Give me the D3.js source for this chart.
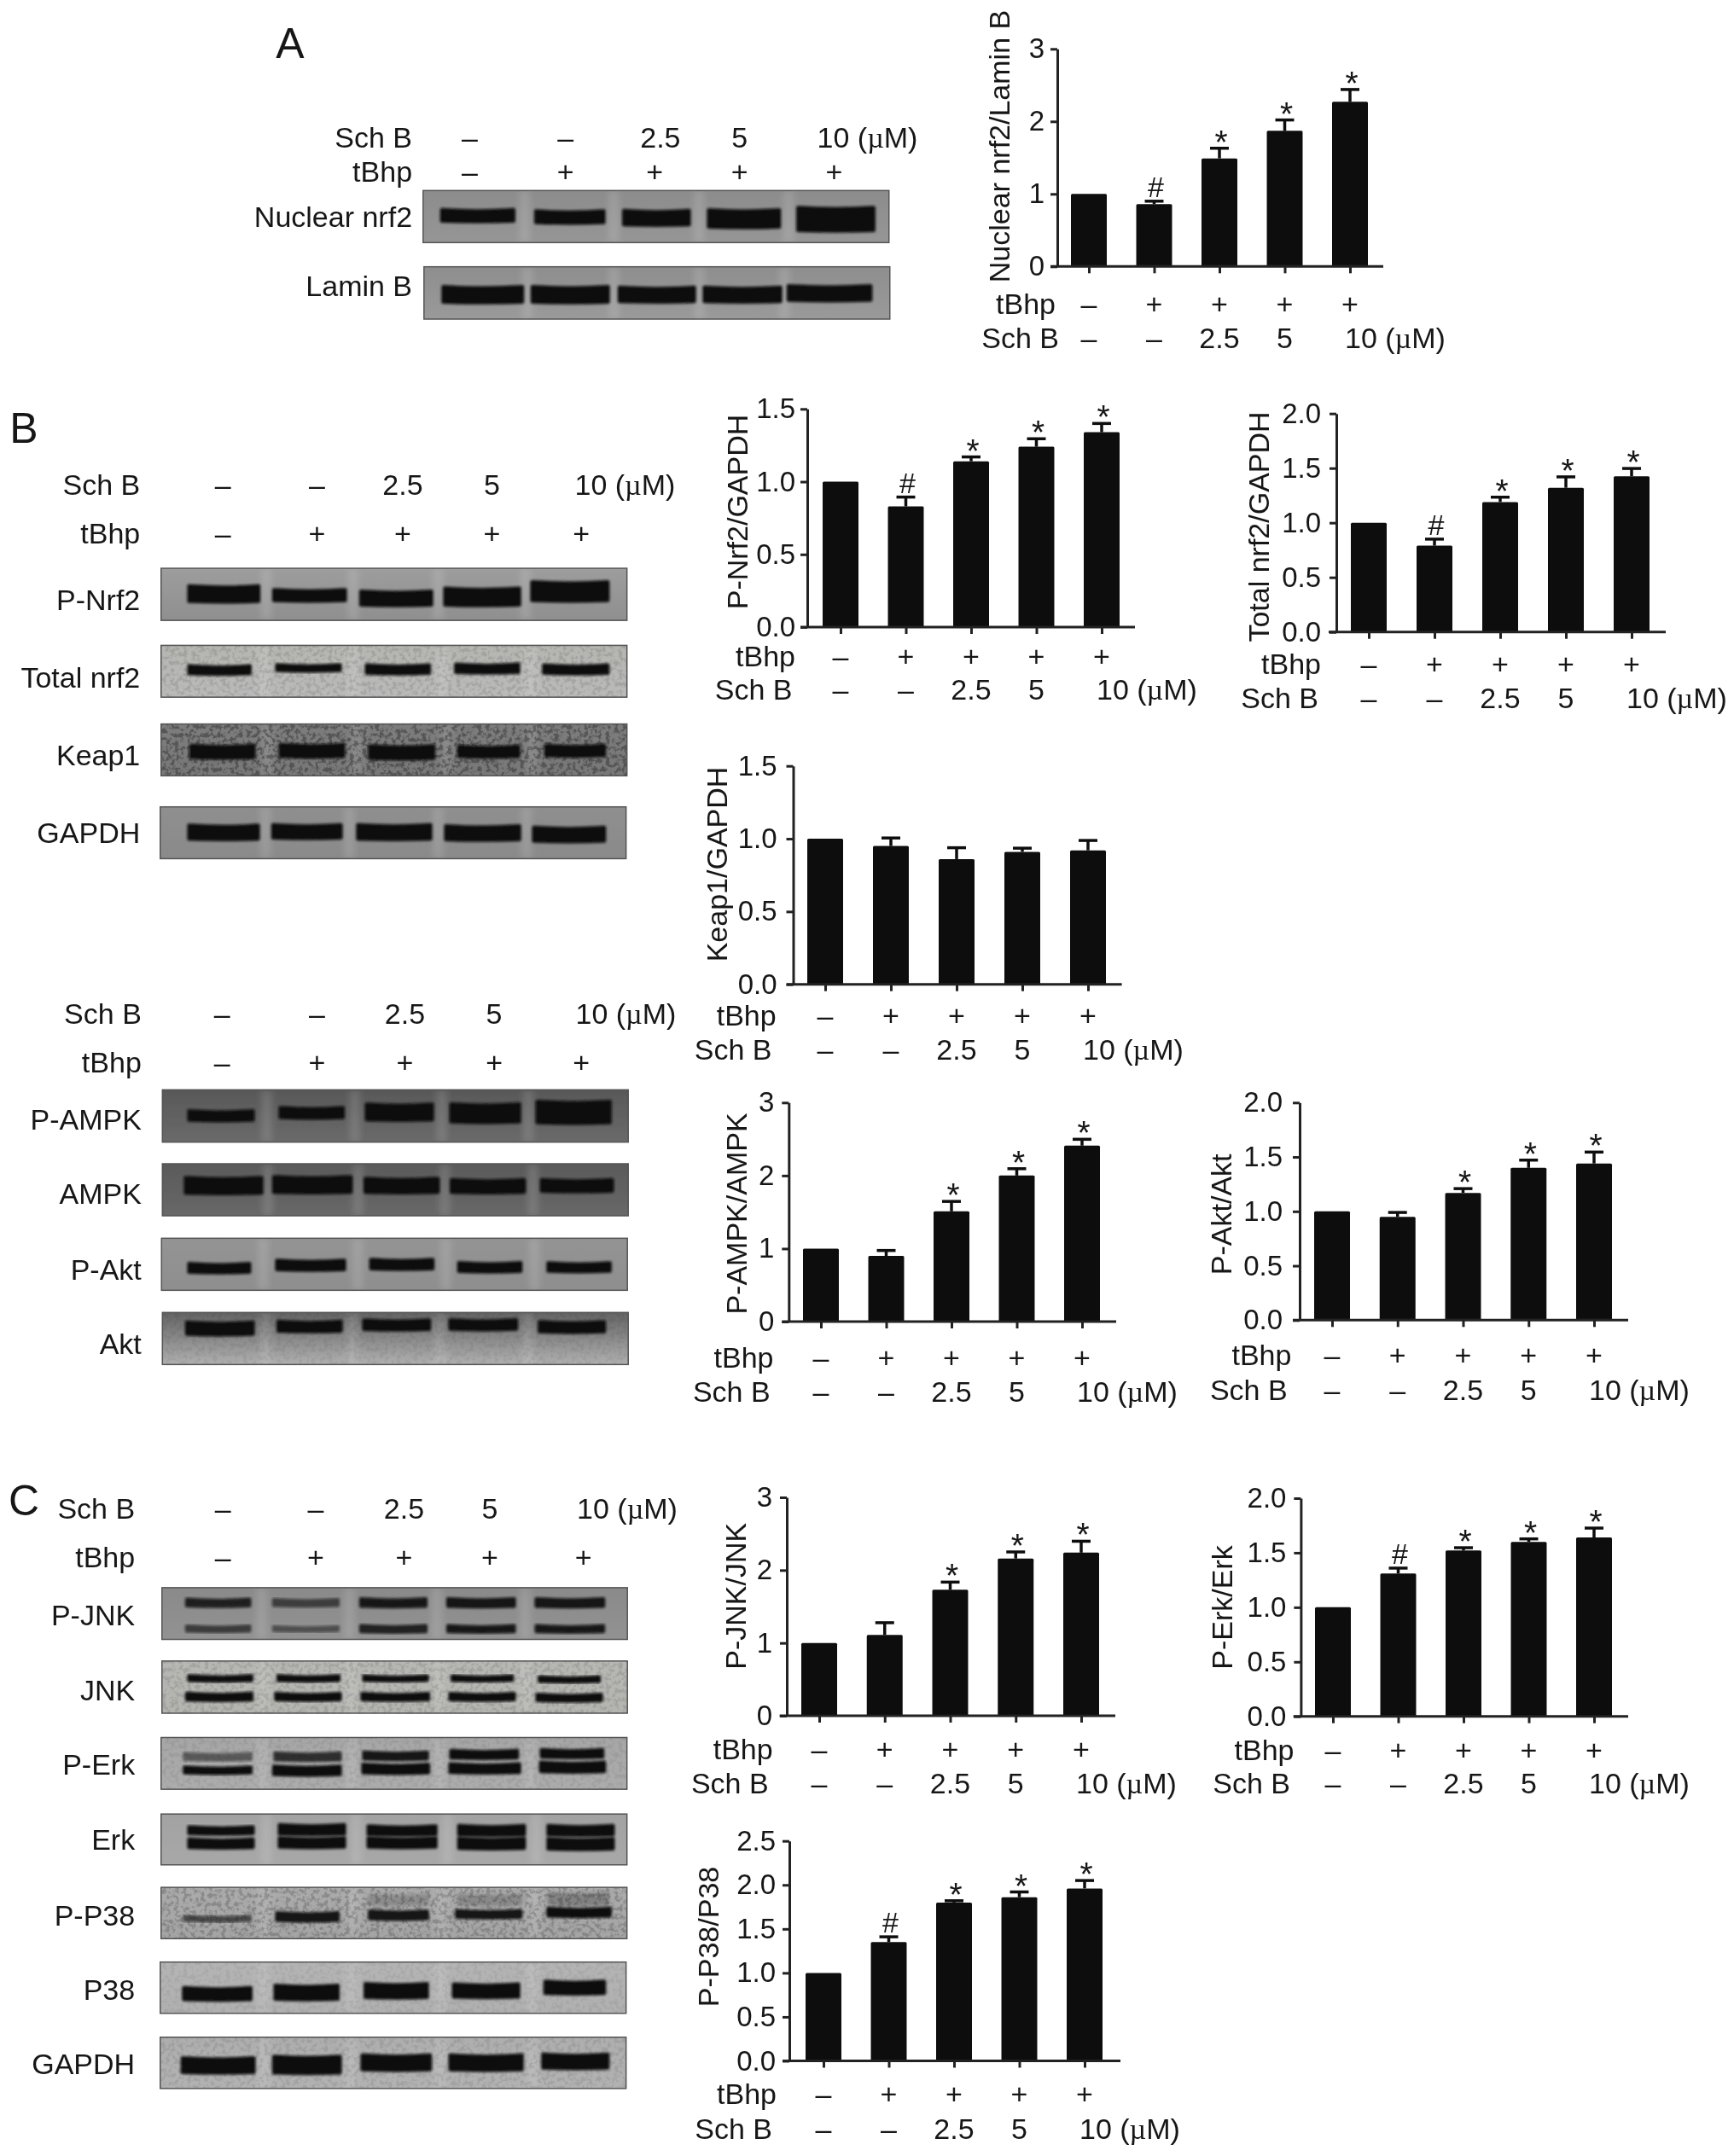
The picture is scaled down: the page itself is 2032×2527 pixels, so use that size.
<!DOCTYPE html>
<html>
<head>
<meta charset="utf-8">
<script src="https://cdn.jsdelivr.net/npm/d3@7"></script>
<style>
  html, body { margin: 0; padding: 0; background: #fff; }
  text { font-family: "Liberation Sans", Arial, sans-serif; fill: #161616; }
</style>
</head>
<body>
<script>
// values
var groups = ['control', 'tBhp', 'sch2.5', 'sch5', 'sch10']
var tbhpRow = ['\u2013', '+', '+', '+', '+']
var schRow = ['\u2013', '\u2013', '2.5', '5', '10']

var ticks3 = [0, 1, 2, 3]
var ticks15 = [0, 0.5, 1, 1.5]
var ticks20 = [0, 0.5, 1, 1.5, 2]
var ticks25 = [0, 0.5, 1, 1.5, 2, 2.5]

var nuclearValues = [1, 0.86, 1.49, 1.87, 2.27]
var nuclearErrors = [0, 0.04, 0.14, 0.15, 0.17]
var nuclearMarks = ['', '#', '*', '*', '*']

var pNrf2Values = [1, 0.83, 1.14, 1.24, 1.34]
var pNrf2Errors = [0, 0.064, 0.03, 0.055, 0.06]
var pNrf2Marks = ['', '#', '*', '*', '*']

var totalNrf2Values = [1, 0.79, 1.19, 1.32, 1.425]
var totalNrf2Errors = [0, 0.06, 0.044, 0.1, 0.072]
var totalNrf2Marks = ['', '#', '*', '*', '*']

var keap1Values = [1, 0.95, 0.86, 0.91, 0.92]
var keap1Errors = [0, 0.055, 0.078, 0.025, 0.068]
var keap1Marks = ['', '', '', '', '']

var pAmpkValues = [1, 0.9, 1.51, 2.0, 2.41]
var pAmpkErrors = [0, 0.074, 0.136, 0.094, 0.087]
var pAmpkMarks = ['', '', '*', '*', '*']

var pAktValues = [1, 0.95, 1.17, 1.4, 1.44]
var pAktErrors = [0, 0.04, 0.039, 0.071, 0.105]
var pAktMarks = ['', '', '*', '*', '*']

var pJnkValues = [1, 1.11, 1.73, 2.16, 2.24]
var pJnkErrors = [0, 0.168, 0.106, 0.09, 0.157]
var pJnkMarks = ['', '', '*', '*', '*']

var pErkValues = [1, 1.31, 1.52, 1.6, 1.64]
var pErkErrors = [0, 0.049, 0.026, 0.027, 0.086]
var pErkMarks = ['', '#', '*', '*', '*']

var pP38Values = [1, 1.35, 1.8, 1.86, 1.96]
var pP38Errors = [0, 0.06, 0.02, 0.06, 0.09]
var pP38Marks = ['', '#', '*', '*', '*']

var svgWidth = 2032
var svgHeight = 2527
var fontSize = 34

var svgContainer = d3.select('body')
  .append('svg')
  .attr('width', svgWidth)
  .attr('height', svgHeight)

var defs = svgContainer.append('defs')

// the reference is a soft jpeg
defs.append('filter').attr('id', 'soft').attr('x', '-2%').attr('y', '-2%').attr('width', '104%').attr('height', '104%')
  .append('feGaussianBlur').attr('stdDeviation', 0.7)

defs.append('filter').attr('id', 'bandBlur').attr('x', '-10%').attr('y', '-40%').attr('width', '120%').attr('height', '180%')
  .append('feGaussianBlur').attr('stdDeviation', 1.8)

defs.append('filter').attr('id', 'gapBlur').attr('x', '-50%').attr('y', '0%').attr('width', '200%').attr('height', '100%')
  .append('feGaussianBlur').attr('stdDeviation', 4)

var grain = defs.append('filter').attr('id', 'grain').attr('x', 0).attr('y', 0).attr('width', '100%').attr('height', '100%')
grain.append('feTurbulence')
  .attr('type', 'fractalNoise').attr('baseFrequency', 0.2).attr('numOctaves', 3).attr('seed', 7)
grain.append('feColorMatrix').attr('type', 'matrix')
  .attr('values', '0 0 0 0 0  0 0 0 0 0  0 0 0 0 0  0 0 0 5 -2.3')

var root = svgContainer.append('g').attr('filter', 'url(#soft)')

// ---- bar charts ----

var panels = [
  { title: 'Nuclear nrf2/Lamin B', values: nuclearValues, errors: nuclearErrors, marks: nuclearMarks, ticks: ticks3, fmt: 'd',
    axisX: 1239, xStart: 1231, xEnd: 1621, yTop: 57.3, yZero: 312.3, first: 1276, last: 1582, tickPad: 7,
    labelX: 1171, labelY: 171.5, rowRight: 1237, schRight: 1241, tbhpY: 356, schY: 396 },
  { title: 'P-Nrf2/GAPDH', values: pNrf2Values, errors: pNrf2Errors, marks: pNrf2Marks, ticks: ticks15, fmt: '.1f',
    axisX: 946, xStart: 938, xEnd: 1330, yTop: 479.3, yZero: 735, first: 985, last: 1291, tickPad: 6,
    labelX: 864, labelY: 600, rowRight: 932, schRight: 928.5, tbhpY: 769, schY: 808 },
  { title: 'Total nrf2/GAPDH', values: totalNrf2Values, errors: totalNrf2Errors, marks: totalNrf2Marks, ticks: ticks20, fmt: '.1f',
    axisX: 1566, xStart: 1557, xEnd: 1952, yTop: 484.7, yZero: 740.7, first: 1604, last: 1912, tickPad: 10,
    labelX: 1475, labelY: 617.5, rowRight: 1548, schRight: 1545, tbhpY: 778, schY: 818 },
  { title: 'Keap1/GAPDH', values: keap1Values, errors: keap1Errors, marks: keap1Marks, ticks: ticks15, fmt: '.1f',
    axisX: 929.5, xStart: 921.6, xEnd: 1314.6, yTop: 897.7, yZero: 1153.7, first: 967, last: 1275, tickPad: 11,
    labelX: 840, labelY: 1013, rowRight: 909.7, schRight: 904.5, tbhpY: 1189.7, schY: 1229.7 },
  { title: 'P-AMPK/AMPK', values: pAmpkValues, errors: pAmpkErrors, marks: pAmpkMarks, ticks: ticks3, fmt: 'd',
    axisX: 924.3, xStart: 916.4, xEnd: 1308, yTop: 1292.3, yZero: 1549, first: 962, last: 1268, tickPad: 9,
    labelX: 863, labelY: 1422.5, rowRight: 906.5, schRight: 902.6, tbhpY: 1590.7, schY: 1630.7 },
  { title: 'P-Akt/Akt', values: pAktValues, errors: pAktErrors, marks: pAktMarks, ticks: ticks20, fmt: '.1f',
    axisX: 1523, xStart: 1515, xEnd: 1908, yTop: 1292.3, yZero: 1547.3, first: 1561, last: 1868, tickPad: 12,
    labelX: 1430.5, labelY: 1423.3, rowRight: 1513.4, schRight: 1508.6, tbhpY: 1588, schY: 1628.3 },
  { title: 'P-JNK/JNK', values: pJnkValues, errors: pJnkErrors, marks: pJnkMarks, ticks: ticks3, fmt: 'd',
    axisX: 922, xStart: 913.6, xEnd: 1307, yTop: 1755, yZero: 2011, first: 960, last: 1267, tickPad: 9,
    labelX: 862, labelY: 1870.8, rowRight: 905.7, schRight: 900.6, tbhpY: 2049.7, schY: 2089.7 },
  { title: 'P-Erk/Erk', values: pErkValues, errors: pErkErrors, marks: pErkMarks, ticks: ticks20, fmt: '.1f',
    axisX: 1524.4, xStart: 1515.7, xEnd: 1908, yTop: 1756, yZero: 2011.7, first: 1562, last: 1868, tickPad: 9,
    labelX: 1432, labelY: 1884, rowRight: 1516.5, schRight: 1512, tbhpY: 2050.7, schY: 2089.7 },
  { title: 'P-P38/P38', values: pP38Values, errors: pP38Errors, marks: pP38Marks, ticks: ticks25, fmt: '.1f',
    axisX: 925, xStart: 917, xEnd: 1313, yTop: 2157.7, yZero: 2415.5, first: 965, last: 1271, tickPad: 8,
    labelX: 830, labelY: 2270, rowRight: 910, schRight: 905, tbhpY: 2454, schY: 2494.5 }
]

var barWidth = 42
var ink = '#111'

panels.forEach(function (p) {
  var g = root.append('g')
  var x = d3.scalePoint().domain(groups).range([p.first, p.last])
  var y = d3.scaleLinear().domain([0, d3.max(p.ticks)]).range([p.yZero, p.yTop])

  var rows = groups.map(function (name, i) {
    return { name: name, value: p.values[i], error: p.errors[i], mark: p.marks[i], tbhp: tbhpRow[i], sch: schRow[i] }
  })

  g.selectAll('rect.bar')
    .data(rows)
    .enter()
    .append('rect')
    .attr('class', 'bar')
    .attr('x', d => x(d.name) - barWidth / 2)
    .attr('y', d => y(d.value))
    .attr('width', barWidth)
    .attr('height', d => y(0) - y(d.value))
    .attr('rx', 1.5)
    .attr('fill', ink)

  // error bars, only the upper half shows
  var withError = rows.filter(d => d.error > 0)
  g.selectAll('line.stem')
    .data(withError)
    .enter()
    .append('line')
    .attr('class', 'stem')
    .attr('x1', d => x(d.name))
    .attr('x2', d => x(d.name))
    .attr('y1', d => y(d.value))
    .attr('y2', d => y(d.value + d.error))
    .attr('stroke', ink)
    .attr('stroke-width', 3.5)
  g.selectAll('line.cap')
    .data(withError)
    .enter()
    .append('line')
    .attr('class', 'cap')
    .attr('x1', d => x(d.name) - 11)
    .attr('x2', d => x(d.name) + 11)
    .attr('y1', d => y(d.value + d.error))
    .attr('y2', d => y(d.value + d.error))
    .attr('stroke', ink)
    .attr('stroke-width', 3.5)

  g.selectAll('text.mark')
    .data(rows.filter(d => d.mark !== ''))
    .enter()
    .append('text')
    .attr('class', 'mark')
    .attr('x', d => x(d.name) + 2)
    .attr('y', d => y(d.value + d.error) + (d.mark === '*' ? 6 : -5))
    .attr('text-anchor', 'middle')
    .attr('font-size', d => d.mark === '*' ? 39 : 34)
    .text(d => d.mark)

  // axes
  var yAxis = d3.axisLeft(y)
    .tickValues(p.ticks)
    .tickFormat(d3.format(p.fmt))
    .tickSize(8)
    .tickSizeOuter(0)
    .tickPadding(p.tickPad)
  var yGroup = g.append('g').attr('transform', 'translate(' + p.axisX + ',0)').call(yAxis)
  yGroup.attr('font-family', null)
  yGroup.selectAll('text').attr('font-size', 33).style('fill', '#161616')
  yGroup.selectAll('line, path').attr('stroke', '#222').attr('stroke-width', 3)

  var xAxis = d3.axisBottom(x).tickFormat('').tickSize(8).tickSizeOuter(0)
  var xGroup = g.append('g').attr('transform', 'translate(0,' + p.yZero + ')').call(xAxis)
  xGroup.selectAll('line').attr('stroke', '#222').attr('stroke-width', 3)
  xGroup.select('path.domain').attr('d', 'M' + p.xStart + ',0H' + p.xEnd).attr('stroke', '#222').attr('stroke-width', 3)

  g.append('text')
    .attr('transform', 'translate(' + p.labelX + ',' + p.labelY + ') rotate(-90)')
    .attr('text-anchor', 'middle')
    .attr('dy', '0.36em')
    .attr('font-size', fontSize)
    .text(p.title)

  // condition rows under the axis
  g.append('text').attr('x', p.rowRight).attr('y', p.tbhpY).attr('dy', '0.36em')
    .attr('text-anchor', 'end').attr('font-size', fontSize).text('tBhp')
  g.append('text').attr('x', p.schRight).attr('y', p.schY).attr('dy', '0.36em')
    .attr('text-anchor', 'end').attr('font-size', fontSize).text('Sch B')
  g.selectAll('text.tbhp')
    .data(rows)
    .enter()
    .append('text')
    .attr('class', 'tbhp')
    .attr('x', d => x(d.name))
    .attr('y', p.tbhpY)
    .attr('dy', '0.36em')
    .attr('text-anchor', 'middle')
    .attr('font-size', fontSize)
    .text(d => d.tbhp)
  var schText = g.selectAll('text.sch')
    .data(rows)
    .enter()
    .append('text')
    .attr('class', 'sch')
    .attr('x', (d, i) => i === 4 ? x(d.name) - 6 : x(d.name))
    .attr('y', p.schY)
    .attr('dy', '0.36em')
    .attr('text-anchor', (d, i) => i === 4 ? 'start' : 'middle')
    .attr('font-size', fontSize)
    .text(d => d.sch)
  addMicroMolar(schText.filter((d, i) => i === 4))
})

function addMicroMolar(selection) {
  selection.append('tspan').text(' (')
  selection.append('tspan').style('font-family', '"Liberation Serif", serif').text('\u00b5')
  selection.append('tspan').text('M)')
}

// ---- western blot strips ----
// coordinates in each section are in its own crop units, fx/fy bring them to the page
var blotSections = [
  { ox: 280, oy: 0, fx: 1.96, fy: 3, labelRight: 398,
    schY: 482, tbhpY: 603, schX: [530, 750, 968, 1150, 1328], tbhpX: [530, 750, 955, 1150, 1367],
    blots: [
      { label: 'Nuclear nrf2', labelY: 760, x0: 423, x1: 1493, y0: 670, y1: 853, top: '#8c8c8c', bottom: '#969696',
        bands: [[462, 635, 757, 52, 1], [678, 842, 762, 52, 1], [880, 1038, 765, 62, 1], [1075, 1245, 768, 72, 1], [1280, 1462, 770, 92, 1]] },
      { label: 'Lamin B', labelY: 1005, x0: 425, x1: 1495, y0: 938, y1: 1122, top: '#8e8e8e', bottom: '#9a9a9a',
        bands: [[465, 655, 1035, 66, 1], [670, 852, 1035, 66, 1], [870, 1050, 1035, 62, 1], [1065, 1248, 1035, 62, 1], [1258, 1455, 1030, 62, 1]] }
    ] },
  { ox: 0, oy: 460, fx: 1.96, fy: 2.8, labelRight: 322,
    schY: 302, tbhpY: 460, schX: [512, 728, 925, 1130, 1320], tbhpX: [512, 728, 925, 1130, 1335],
    blots: [
      { label: 'P-Nrf2', labelY: 680, x0: 370, x1: 1440, y0: 577, y1: 748, top: '#9d9d9d', bottom: '#8f8f8f',
        bands: [[430, 598, 660, 62, 1], [625, 797, 665, 46, 1], [825, 995, 675, 56, 1], [1018, 1197, 670, 66, 1], [1218, 1400, 652, 72, 1]] },
      { label: 'Total nrf2', labelY: 935, x0: 370, x1: 1440, y0: 830, y1: 1000, top: '#b5b5b1', bottom: '#bababa', noise: 0.1,
        bands: [[430, 578, 910, 36, 1], [632, 785, 903, 30, 1], [838, 990, 908, 38, 1], [1043, 1195, 905, 38, 1], [1245, 1400, 908, 38, 1]] },
      { label: 'Keap1', labelY: 1190, x0: 370, x1: 1440, y0: 1088, y1: 1258, top: '#7c7c7c', bottom: '#787878', noise: 0.3,
        bands: [[435, 587, 1178, 50, 1], [640, 793, 1175, 50, 1], [845, 1000, 1180, 52, 1], [1050, 1195, 1178, 44, 1], [1250, 1392, 1175, 44, 1]] },
      { label: 'GAPDH', labelY: 1445, x0: 368, x1: 1438, y0: 1360, y1: 1530, top: '#8f8f8f', bottom: '#8a8a8a',
        bands: [[430, 597, 1443, 56, 1], [623, 787, 1440, 54, 1], [818, 993, 1442, 58, 1], [1020, 1197, 1445, 56, 1], [1222, 1392, 1450, 56, 1]] }
    ] },
  { ox: 0, oy: 1150, fx: 1.96, fy: 3, labelRight: 325,
    schY: 114, tbhpY: 284, schX: [510, 728, 930, 1135, 1322], tbhpX: [510, 728, 930, 1135, 1335],
    blots: [
      { label: 'P-AMPK', labelY: 485, x0: 373, x1: 1443, y0: 382, y1: 566, top: '#585858', bottom: '#6a6a6a',
        bands: [[430, 585, 472, 44, 1], [640, 792, 462, 46, 1], [838, 997, 460, 66, 1], [1032, 1197, 463, 74, 1], [1230, 1405, 460, 86, 1]] },
      { label: 'AMPK', labelY: 745, x0: 373, x1: 1443, y0: 642, y1: 825, top: '#5a5a5a', bottom: '#686868',
        bands: [[422, 605, 718, 66, 1], [625, 810, 715, 66, 1], [835, 1010, 718, 60, 1], [1033, 1208, 720, 56, 1], [1240, 1410, 718, 52, 1]] },
      { label: 'P-Akt', labelY: 1012, x0: 371, x1: 1441, y0: 904, y1: 1087, top: '#949494', bottom: '#8e8e8e',
        bands: [[430, 577, 1008, 42, 1], [632, 795, 998, 44, 1], [848, 998, 995, 44, 1], [1050, 1200, 1005, 42, 1], [1255, 1405, 1005, 40, 1]] },
      { label: 'Akt', labelY: 1275, x0: 373, x1: 1443, y0: 1165, y1: 1348, top: '#636363', bottom: '#b0b0b0', noise: 0.05,
        bands: [[425, 585, 1220, 54, 1], [635, 787, 1213, 46, 1], [832, 990, 1208, 44, 1], [1030, 1190, 1207, 44, 1], [1235, 1392, 1215, 46, 1]] }
    ] },
  { ox: 0, oy: 1700, fx: 1.96, fy: 1.896, labelRight: 310,
    schY: 128, tbhpY: 236, schX: [512, 725, 928, 1125, 1325], tbhpX: [512, 725, 928, 1125, 1340],
    blots: [
      { label: 'P-JNK', labelY: 365, x0: 372, x1: 1441, y0: 305, y1: 420, top: '#8a8a8a', bottom: '#929292',
        bands: [[425, 577, 338, 22, 0.85], [625, 780, 338, 20, 0.62], [825, 982, 338, 24, 0.9], [1025, 1185, 338, 24, 0.95], [1228, 1390, 338, 24, 0.95],
                [425, 577, 396, 18, 0.65], [625, 780, 396, 16, 0.5], [825, 982, 396, 20, 0.85], [1025, 1185, 396, 20, 0.9], [1228, 1390, 396, 20, 0.9]] },
      { label: 'JNK', labelY: 532, x0: 372, x1: 1441, y0: 468, y1: 584, top: '#b7b7b4', bottom: '#b4b4b0', noise: 0.1,
        bands: [[430, 582, 506, 18, 1], [635, 782, 506, 18, 1], [832, 985, 506, 17, 1], [1035, 1180, 506, 17, 1], [1235, 1380, 508, 17, 1],
                [425, 582, 547, 22, 1], [630, 785, 547, 21, 1], [828, 988, 547, 21, 1], [1030, 1185, 547, 21, 1], [1230, 1385, 549, 21, 1]] },
      { label: 'P-Erk', labelY: 698, x0: 370, x1: 1440, y0: 638, y1: 753, top: '#a6a6a6', bottom: '#acacac', noise: 0.06,
        bands: [[420, 580, 680, 20, 0.5], [628, 785, 680, 22, 0.78], [832, 985, 678, 22, 0.95], [1032, 1192, 675, 24, 1], [1240, 1388, 673, 24, 1],
                [420, 580, 710, 20, 1], [625, 785, 711, 26, 1], [830, 988, 707, 26, 1], [1030, 1197, 706, 26, 1], [1238, 1392, 703, 28, 1]] },
      { label: 'Erk', labelY: 865, x0: 370, x1: 1440, y0: 808, y1: 921, top: '#a2a2a2', bottom: '#a8a8a8',
        bands: [[430, 585, 844, 22, 1], [638, 795, 842, 28, 1], [842, 1005, 844, 26, 1], [1050, 1208, 844, 28, 1], [1255, 1412, 844, 28, 1],
                [430, 585, 873, 26, 1], [638, 795, 871, 28, 1], [842, 1005, 871, 28, 1], [1050, 1208, 873, 30, 1], [1255, 1412, 874, 30, 1]] },
      { label: 'P-P38', labelY: 1032, x0: 370, x1: 1440, y0: 971, y1: 1085, top: '#ababab', bottom: '#a4a4a4', noise: 0.18,
        bands: [[845, 985, 998, 26, 0.18], [1050, 1200, 998, 26, 0.2], [1258, 1400, 996, 30, 0.25],
                [420, 578, 1040, 16, 0.6], [632, 780, 1036, 24, 0.95], [845, 985, 1032, 24, 0.95], [1045, 1200, 1030, 22, 0.95], [1255, 1405, 1026, 24, 1]] },
      { label: 'P38', labelY: 1197, x0: 368, x1: 1438, y0: 1137, y1: 1251, top: '#b4b4b4', bottom: '#b0b0b0', noise: 0.05,
        bands: [[418, 580, 1207, 34, 1], [628, 780, 1204, 38, 1], [835, 985, 1200, 38, 1], [1038, 1195, 1200, 36, 1], [1248, 1392, 1193, 34, 1]] },
      { label: 'GAPDH', labelY: 1362, x0: 368, x1: 1438, y0: 1304, y1: 1418, top: '#aeaeae', bottom: '#b2b2b2', noise: 0.08,
        bands: [[415, 587, 1366, 40, 1], [625, 785, 1365, 44, 1], [828, 992, 1360, 40, 1], [1030, 1203, 1360, 40, 1], [1243, 1400, 1357, 38, 1]] }
    ] }
]

blotSections.forEach(function (section, si) {
  var sx = v => v / section.fx + section.ox
  var sy = v => v / section.fy + section.oy
  var g = root.append('g')

  g.append('text').attr('x', sx(section.labelRight)).attr('y', sy(section.schY)).attr('dy', '0.36em')
    .attr('text-anchor', 'end').attr('font-size', fontSize).text('Sch B')
  g.append('text').attr('x', sx(section.labelRight)).attr('y', sy(section.tbhpY)).attr('dy', '0.36em')
    .attr('text-anchor', 'end').attr('font-size', fontSize).text('tBhp')

  g.selectAll('text.tbhp')
    .data(tbhpRow)
    .enter()
    .append('text')
    .attr('class', 'tbhp')
    .attr('x', (d, i) => sx(section.tbhpX[i]))
    .attr('y', sy(section.tbhpY))
    .attr('dy', '0.36em')
    .attr('text-anchor', 'middle')
    .attr('font-size', fontSize)
    .text(d => d)

  var schText = g.selectAll('text.sch')
    .data(schRow)
    .enter()
    .append('text')
    .attr('class', 'sch')
    .attr('x', (d, i) => sx(section.schX[i]))
    .attr('y', sy(section.schY))
    .attr('dy', '0.36em')
    .attr('text-anchor', (d, i) => i === 4 ? 'start' : 'middle')
    .attr('font-size', fontSize)
    .text(d => d)
  addMicroMolar(schText.filter((d, i) => i === 4))

  section.blots.forEach(function (blot, bi) {
    var gradId = 'blot' + si + '_' + bi
    var grad = defs.append('linearGradient').attr('id', gradId).attr('x1', 0).attr('y1', 0).attr('x2', 0).attr('y2', 1)
    grad.append('stop').attr('offset', 0).attr('stop-color', blot.top)
    grad.append('stop').attr('offset', 1).attr('stop-color', blot.bottom)

    var bx = sx(blot.x0)
    var by = sy(blot.y0)
    var bw = sx(blot.x1) - bx
    var bh = sy(blot.y1) - by

    g.append('rect')
      .attr('x', bx).attr('y', by).attr('width', bw).attr('height', bh)
      .attr('fill', 'url(#' + gradId + ')')

    // lighter gutters between the lanes
    var lanes = blot.bands.slice(-5)
    var clipId = gradId + '_clip'
    defs.append('clipPath').attr('id', clipId).append('rect')
      .attr('x', bx).attr('y', by).attr('width', bw).attr('height', bh)
    var gutters = g.append('g').attr('clip-path', 'url(#' + clipId + ')')
    gutters.selectAll('rect')
      .data(lanes.slice(0, 4))
      .enter()
      .append('rect')
      .attr('x', (d, i) => sx((d[1] + lanes[i + 1][0]) / 2) - 6)
      .attr('y', by)
      .attr('width', 12)
      .attr('height', bh)
      .attr('fill', '#fff')
      .attr('opacity', 0.14)
      .attr('filter', 'url(#gapBlur)')

    if (blot.noise) {
      g.append('rect')
        .attr('x', bx).attr('y', by).attr('width', bw).attr('height', bh)
        .attr('fill', '#000')
        .attr('filter', 'url(#grain)')
        .attr('opacity', blot.noise)
    }

    // bands sag a little in the middle, like the gel
    g.append('g').selectAll('path')
      .data(blot.bands)
      .enter()
      .append('path')
      .attr('d', function (d) {
        var x0 = sx(d[0]) + 2
        var x1 = sx(d[1]) - 2
        var mid = (x0 + x1) / 2
        var top = sy(d[2] - d[3] / 2) + 2
        var bottom = sy(d[2] + d[3] / 2) - 2
        var p = d3.path()
        p.moveTo(x0, top)
        p.quadraticCurveTo(mid, top + 3, x1, top)
        p.lineTo(x1, bottom)
        p.quadraticCurveTo(mid, bottom + 1.5, x0, bottom)
        p.closePath()
        return p.toString()
      })
      .attr('fill', '#0c0c0c')
      .attr('stroke', '#0c0c0c')
      .attr('stroke-width', 4)
      .attr('stroke-linejoin', 'round')
      .attr('opacity', d => d[4])
      .attr('filter', 'url(#bandBlur)')

    g.append('rect')
      .attr('x', bx).attr('y', by).attr('width', bw).attr('height', bh)
      .attr('fill', 'none')
      .attr('stroke', '#555').attr('stroke-width', 1.5)

    g.append('text')
      .attr('x', sx(section.labelRight))
      .attr('y', sy(blot.labelY))
      .attr('dy', '0.36em')
      .attr('text-anchor', 'end')
      .attr('font-size', fontSize)
      .text(blot.label)
  })
})

// section letters
var sectionLetters = ['A', 'B', 'C']
var letterX = [340, 28, 28]
var letterY = [50, 501, 1758]

root.selectAll('text.letter')
  .data(sectionLetters)
  .enter()
  .append('text')
  .attr('class', 'letter')
  .attr('x', (d, i) => letterX[i])
  .attr('y', (d, i) => letterY[i])
  .attr('dy', '0.36em')
  .attr('text-anchor', 'middle')
  .attr('font-size', 50)
  .text(d => d)
</script>
</body>
</html>
